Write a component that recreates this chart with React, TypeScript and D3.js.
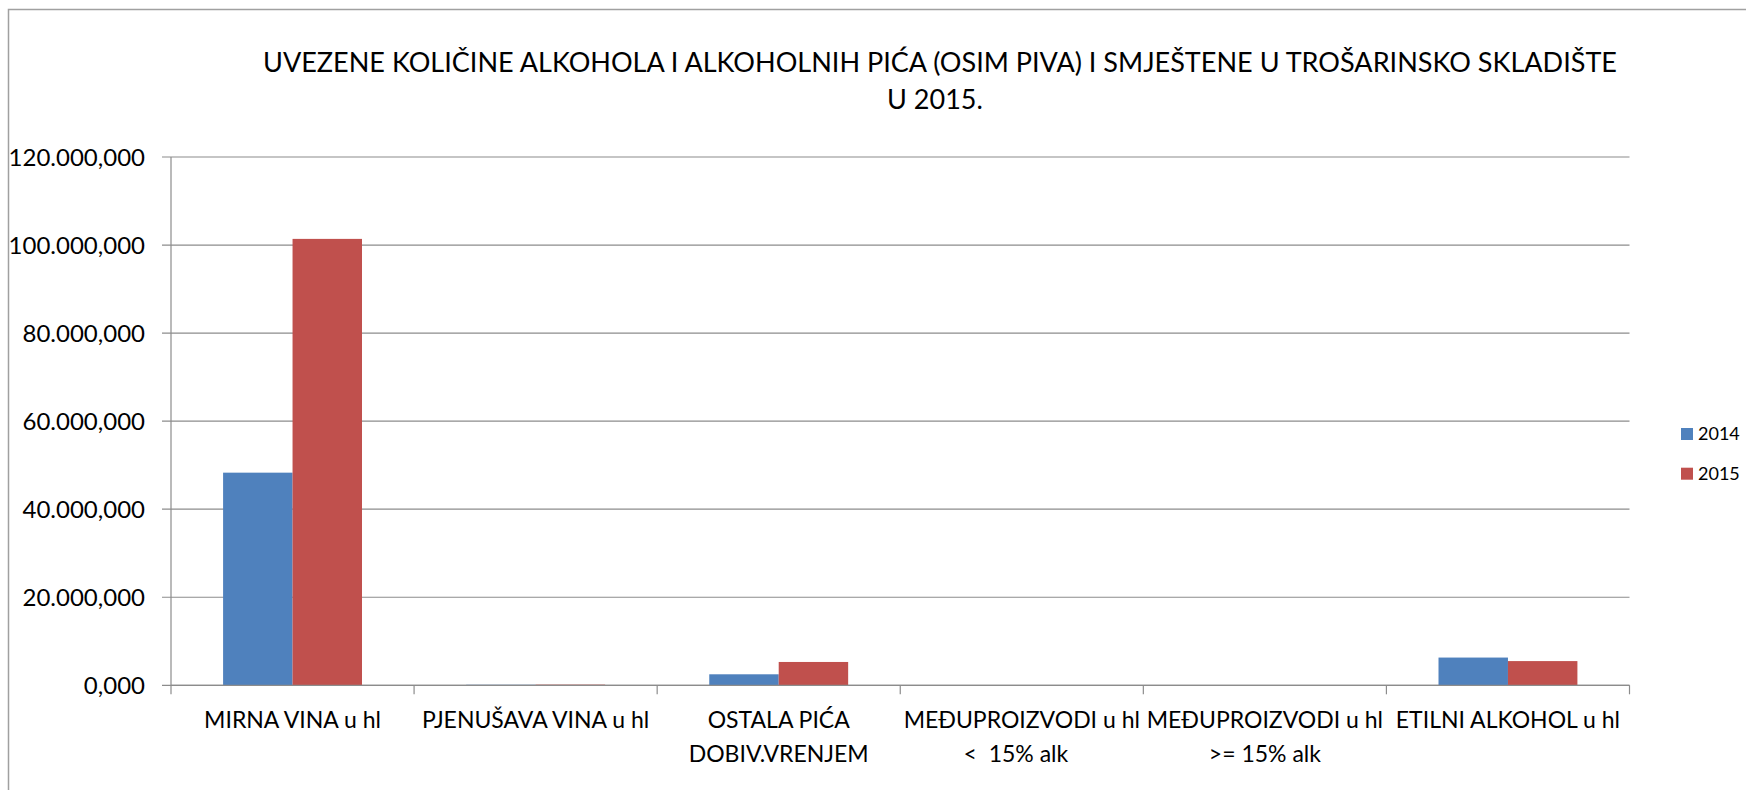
import React from "react";
import * as d3 from "d3";

const titleLines = [
  "UVEZENE KOLIČINE ALKOHOLA I ALKOHOLNIH PIĆA (OSIM PIVA) I SMJEŠTENE U TROŠARINSKO SKLADIŠTE",
  "U 2015.",
];
const categories = [
  "MIRNA VINA u hl",
  "PJENUŠAVA VINA u hl",
  "OSTALA PIĆA DOBIV.VRENJEM",
  "MEĐUPROIZVODI u hl < 15% alk",
  "MEĐUPROIZVODI u hl >= 15% alk",
  "ETILNI ALKOHOL u hl",
];
const categoryLines = [
  ["MIRNA VINA u hl"],
  ["PJENUŠAVA VINA u hl"],
  ["OSTALA PIĆA", "DOBIV.VRENJEM"],
  ["MEĐUPROIZVODI u hl", "<  15% alk  "],
  ["MEĐUPROIZVODI u hl", ">= 15% alk"],
  ["ETILNI ALKOHOL u hl"],
];
const seriesNames = ["2014", "2015"];
const values2014 = [48300, 120, 2500, 10, 60, 6300];
const values2015 = [101400, 150, 5300, 10, 60, 5500];
const yTicks = [0, 20000, 40000, 60000, 80000, 100000, 120000];
const colors = ["#4F81BD", "#C0504D"];

const locale = d3.formatLocale({
  decimal: ",",
  thousands: ".",
  grouping: [3],
  currency: ["", ""],
});
const fmt = locale.format(",.3f");

export default function App() {
  const W = 1746;
  const H = 790;
  const left = 171;
  const right = 1629.5;
  const top = 157;
  const bottom = 685.3;
  const font = "Lato, 'Open Sans', sans-serif";

  const x = d3.scaleBand<string>().domain(categories).range([left, right]).paddingInner(0).paddingOuter(0);
  const xs = d3.scaleBand<string>().domain(seriesNames).range([0, x.bandwidth()]).paddingInner(0).paddingOuter(0.75);
  const y = d3.scaleLinear().domain([0, 120000]).range([bottom, top]);
  const series = [values2014, values2015];

  return (
    <svg
      width={W}
      height={H}
      style={{ position: "absolute", left: 0, top: 0, background: "#fff" }}
      fontFamily={font}
    >
      <rect x={0} y={0} width={W} height={H} fill="#fff" />
      <rect x={8.5} y={9.5} width={W + 20} height={H + 20} fill="none" stroke="#a0a0a0" strokeWidth={1.5} />

      {/* title */}
      <text x={940} y={72} textAnchor="middle" fontSize={26} fill="#000" textLength={1354} lengthAdjust="spacingAndGlyphs">
        {titleLines[0]}
      </text>
      <text x={935} y={109} textAnchor="middle" fontSize={27} fill="#000">
        {titleLines[1]}
      </text>

      {/* gridlines and y ticks */}
      {yTicks.map((t) => (
        <g key={t}>
          <line x1={162} x2={right} y1={y(t)} y2={y(t)} stroke="#8c8c8c" strokeWidth={1.2} />
          <text x={145} y={y(t)} dy="0.36em" textAnchor="end" fontSize={24} fill="#000">
            {fmt(t)}
          </text>
        </g>
      ))}
      {/* y axis */}
      <line x1={left} x2={left} y1={top} y2={bottom + 9} stroke="#8c8c8c" strokeWidth={1.2} />

      {/* bars */}
      {categories.map((c, i) => (
        <g key={c}>
          {series.map((vals, s) => (
            <rect
              key={s}
              x={(x(c) as number) + (xs(seriesNames[s]) as number)}
              y={y(vals[i])}
              width={xs.bandwidth()}
              height={bottom - y(vals[i])}
              fill={colors[s]}
            />
          ))}
        </g>
      ))}

      {/* x axis */}
      <line x1={left} x2={right} y1={bottom} y2={bottom} stroke="#8c8c8c" strokeWidth={1.2} />
      {categories.map((c, i) => (
        <line key={"t" + i} x1={(x(c) as number) + x.bandwidth()} x2={(x(c) as number) + x.bandwidth()} y1={bottom} y2={bottom + 9} stroke="#8c8c8c" strokeWidth={1.2} />
      ))}
      {categories.map((c, i) => (
        <text key={"l" + i} textAnchor="middle" fontSize={23} fill="#000" style={{ whiteSpace: "pre" }}>
          {categoryLines[i].map((ln, j) => (
            <tspan key={j} x={(x(c) as number) + x.bandwidth() / 2} y={728 + j * 34}>
              {ln}
            </tspan>
          ))}
        </text>
      ))}

      {/* legend */}
      {seriesNames.map((n, s) => (
        <g key={n}>
          <rect x={1681} y={428 + s * 39.7} width={12} height={12} fill={colors[s]} />
          <text x={1698} y={434 + s * 39.7} dy="0.36em" fontSize={18} fill="#000">
            {n}
          </text>
        </g>
      ))}
    </svg>
  );
}
